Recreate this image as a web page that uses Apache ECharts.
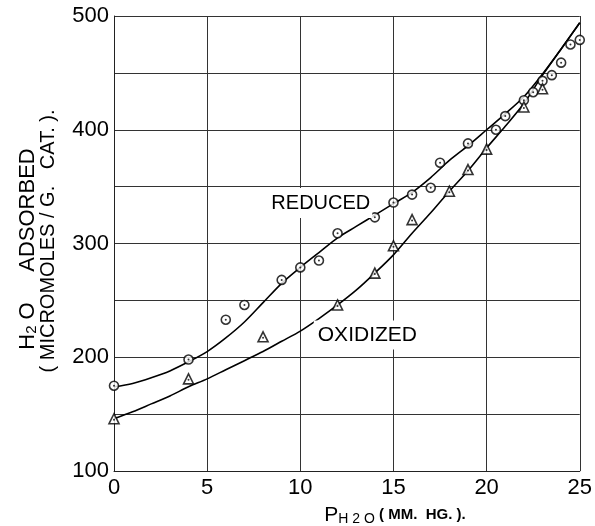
<!DOCTYPE html>
<html>
<head>
<meta charset="utf-8">
<script src="https://cdn.jsdelivr.net/npm/echarts@6/dist/echarts.min.js"></script>
<style>
  html, body { margin: 0; padding: 0; background: #fff; }
  #main { width: 595px; height: 526px; }
</style>
</head>
<body>
<div id="main"></div>
<script>
// 还原态 测量点 (circles)
var reducedP   = [0, 4, 6, 7, 9, 10, 11, 12, 14, 15, 16, 17, 17.5, 19, 20.5, 21, 22, 22.5, 23, 23.5, 24, 24.5, 25];
var reducedAds = [175, 198, 233, 246, 268, 279, 285, 309, 323, 336, 343, 349, 371, 388, 400, 412, 426, 433, 443, 448, 459, 475, 479];
// 氧化态 测量点 (triangles)
var oxidizedP   = [0, 4, 8, 12, 14, 15, 16, 18, 19, 20, 22, 23];
var oxidizedAds = [146, 181, 218, 246, 274, 298, 321, 346, 365, 383, 420, 436];
// 手绘曲线
var reducedCurveP   = [0, 1, 2, 3, 4, 5, 6, 7, 8, 9, 10, 11, 12, 13, 14, 15, 16, 17, 18, 19, 20, 21, 22, 23, 24, 25];
var reducedCurveAds = [174, 177, 182, 188, 196, 205, 217, 231, 248, 265, 279, 292, 305, 315, 325, 335, 345, 358, 373, 386, 400, 414, 429, 449, 471, 494];
var oxidizedCurveP   = [0, 1, 2, 3, 4, 5, 6, 7, 8, 9, 10, 11, 12, 13, 14, 15, 16, 17, 18, 19, 20, 21, 22, 23, 24, 25];
var oxidizedCurveAds = [146, 152, 159, 166, 174, 181, 189, 197, 205, 214, 223, 234, 246, 259, 274, 290, 309, 327, 346, 364, 384, 403, 423, 448, 471, 494];
// 坐标轴刻度
var xTicks = [0, 5, 10, 15, 20, 25];
var yTicks = [100, 200, 300, 400, 500];

function zip(xs, ys) {
    return xs.map(function (x, i) { return [x, ys[i]]; });
}

var font = 'Liberation Sans';
var myChart = echarts.init(document.getElementById('main'));

var option = {
    animation: false,
    backgroundColor: '#fff',
    grid: { left: 114, right: 15, top: 16, bottom: 55 },
    xAxis: {
        type: 'value',
        min: xTicks[0],
        max: xTicks[xTicks.length - 1],
        interval: 5,
        axisLine: { show: true, lineStyle: { color: '#222', width: 1 } },
        axisTick: { show: false },
        axisLabel: { color: '#000', fontFamily: font, fontSize: 22, margin: 6 },
        splitLine: { show: true, lineStyle: { color: '#333', width: 1 } }
    },
    yAxis: {
        type: 'value',
        min: yTicks[0],
        max: yTicks[yTicks.length - 1],
        interval: 50,
        axisLine: { show: true, lineStyle: { color: '#222', width: 1 } },
        axisTick: { show: false },
        axisLabel: {
            color: '#000', fontFamily: font, fontSize: 22, margin: 5,
            formatter: function (v) { return yTicks.indexOf(v) >= 0 ? String(v) : ''; }
        },
        splitLine: { show: true, lineStyle: { color: '#333', width: 1 } }
    },
    series: [
        {
            name: 'reduced curve', type: 'line', data: zip(reducedCurveP, reducedCurveAds),
            showSymbol: false, smooth: 0.3,
            lineStyle: { color: '#000', width: 1.6 }, z: 2
        },
        {
            name: 'oxidized curve', type: 'line', data: zip(oxidizedCurveP, oxidizedCurveAds),
            showSymbol: false, smooth: 0.3,
            lineStyle: { color: '#000', width: 1.6 }, z: 2
        },
        {
            name: 'reduced', type: 'scatter', data: zip(reducedP, reducedAds),
            symbol: 'circle', symbolSize: 9,
            itemStyle: { color: '#fff', borderColor: '#000', borderWidth: 1.6 }, z: 3
        },
        {
            name: 'reduced dot', type: 'scatter', data: zip(reducedP, reducedAds),
            symbol: 'circle', symbolSize: 2,
            itemStyle: { color: '#000' }, z: 4
        },
        {
            name: 'oxidized', type: 'scatter', data: zip(oxidizedP, oxidizedAds),
            symbol: 'triangle', symbolSize: 10,
            itemStyle: { color: '#fff', borderColor: '#000', borderWidth: 1.6 }, z: 3
        },
        {
            name: 'oxidized dot', type: 'scatter', data: zip(oxidizedP, oxidizedAds),
            symbol: 'circle', symbolSize: 2, symbolOffset: [0, 1],
            itemStyle: { color: '#000' }, z: 4
        }
    ]
};
myChart.setOption(option);

// 曲线标签与坐标轴名称
var redPos = myChart.convertToPixel({ gridIndex: 0 }, [11.1, 335.6]);
var oxPos = myChart.convertToPixel({ gridIndex: 0 }, [13.6, 219.6]);

myChart.setOption({
    graphic: [
        {
            type: 'text', x: redPos[0], y: redPos[1], z: 10,
            style: {
                text: 'REDUCED', fontFamily: font, fontSize: 20, fill: '#000',
                align: 'center', verticalAlign: 'middle',
                backgroundColor: '#fff', padding: [5, 2]
            }
        },
        {
            type: 'text', x: oxPos[0], y: oxPos[1], z: 10,
            style: {
                text: 'OXIDIZED', fontFamily: font, fontSize: 21, fill: '#000',
                align: 'center', verticalAlign: 'middle',
                backgroundColor: '#fff', padding: [4, 4]
            }
        },
        {
            type: 'text', x: 28, y: 249, rotation: Math.PI / 2,
            style: {
                text: '{a|H}{s|2}{a| O     ADSORBED}',
                fontFamily: font, fill: '#000', align: 'center', verticalAlign: 'middle',
                rich: {
                    a: { fontFamily: font, fontSize: 22, lineHeight: 22, verticalAlign: 'middle' },
                    s: { fontFamily: font, fontSize: 15, lineHeight: 12, verticalAlign: 'bottom' }
                }
            }
        },
        {
            type: 'text', x: 48, y: 241, rotation: Math.PI / 2,
            style: {
                text: '( MICROMOLES / G.   CAT. ).',
                fontFamily: font, fontSize: 20, fill: '#000',
                align: 'center', verticalAlign: 'middle'
            }
        },
        {
            type: 'text', x: 395, y: 515,
            style: {
                text: '{p|P}{s|H 2 O}{u| ( MM.  HG. ).}',
                fontFamily: font, fill: '#000', align: 'center', verticalAlign: 'middle',
                rich: {
                    p: { fontFamily: font, fontSize: 21, lineHeight: 22, verticalAlign: 'middle' },
                    s: { fontFamily: font, fontSize: 14, lineHeight: 14, verticalAlign: 'bottom' },
                    u: { fontFamily: font, fontSize: 15, fontWeight: 'bold', lineHeight: 20, verticalAlign: 'middle' }
                }
            }
        }
    ]
});
</script>
</body>
</html>
